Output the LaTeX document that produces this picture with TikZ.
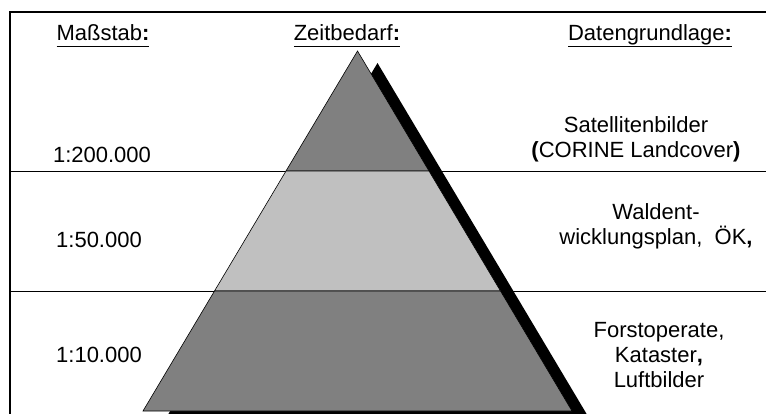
\documentclass[tikz,border=0pt]{standalone}
\usepackage{fontspec}
\setmainfont{Liberation Sans}
\usepackage{xcolor}
\usetikzlibrary{math,calc}
\definecolor{tierdark}{HTML}{808080}
\definecolor{tierlight}{HTML}{C0C0C0}
\newcommand{\hdul}[1]{\setbox0\hbox{#1}\rlap{\rule[-6.5pt]{\wd0}{1.8pt}}\box0}

\begin{document}
\begin{tikzpicture}[x=1pt,y=-1pt,
    lbl/.style={font=\fontsize{22}{25}\selectfont, inner sep=0pt, align=center},
    tier/.style={draw=black, line width=0.6pt, line join=miter}]
      \tikzmath{\ax = 357.5; \ay = 51; \bx = 214.5; \by = 411; \sx = 20; \sy = 12;}
      \useasboundingbox (0,0) rectangle (766,414);
      \clip (0,0) rectangle (766,414);
      \draw[line width=2pt] (10,430) |- (790,12.5);
      \draw[line width=0.8pt] (10,171) -- (790,171);
      \draw[line width=0.8pt] (10,291) -- (790,291);
      \coordinate (apex) at (\ax,\ay);
      \coordinate (bl) at (\ax-\bx,\by);
      \coordinate (br) at (\ax+\bx,\by);
      \coordinate (l1) at ($(apex)!1/3!(bl)$);
      \coordinate (r1) at ($(apex)!1/3!(br)$);
      \coordinate (l2) at ($(apex)!2/3!(bl)$);
      \coordinate (r2) at ($(apex)!2/3!(br)$);
      % shadow
      \fill[black] ([shift={(\sx,\sy)}]apex) -- ([shift={(\sx,\sy)}]bl) -- ([shift={(\sx,\sy)}]br) -- cycle;
      % tiers
      \filldraw[tier, fill=tierdark] (apex) -- (l1) -- (r1) -- cycle;
      \filldraw[tier, fill=tierlight] (l1) -- (l2) -- (r2) -- (r1) -- cycle;
      \filldraw[tier, fill=tierdark] (l2) -- (bl) -- (br) -- (r2) -- cycle;
      % headings
      \node[lbl, anchor=base] (scale) at (103,41) {\hdul{Maßstab\textbf{:}}};
      \node[lbl, anchor=base] (time) at (347,41) {\hdul{Zeitbedarf\textbf{:}}};
      \node[lbl, anchor=base] (data) at (650,41) {\hdul{Datengrundlage\textbf{:}}};
      % scales
      \node[lbl, anchor=base] (s1) at (102,163) {1:200.000};
      \node[lbl, anchor=base] (s2) at (99,248) {1:50.000};
      \node[lbl, anchor=base] (s3) at (99,362) {1:10.000};
      % data sources (base = last line)
      \node[lbl, anchor=base] (d1) at (636,158) {Satellitenbilder\\\textbf{(}CORINE Landcover\textbf{)}};
      \node[lbl, anchor=base] (d2) at (656,245) {Waldent-\\wicklungsplan,\ \ ÖK\textbf{,}};
      \node[lbl, anchor=base] (d3) at (659,387) {Forstoperate,\\Kataster\textbf{,}\\Luftbilder};
    \end{tikzpicture}
\end{document}
